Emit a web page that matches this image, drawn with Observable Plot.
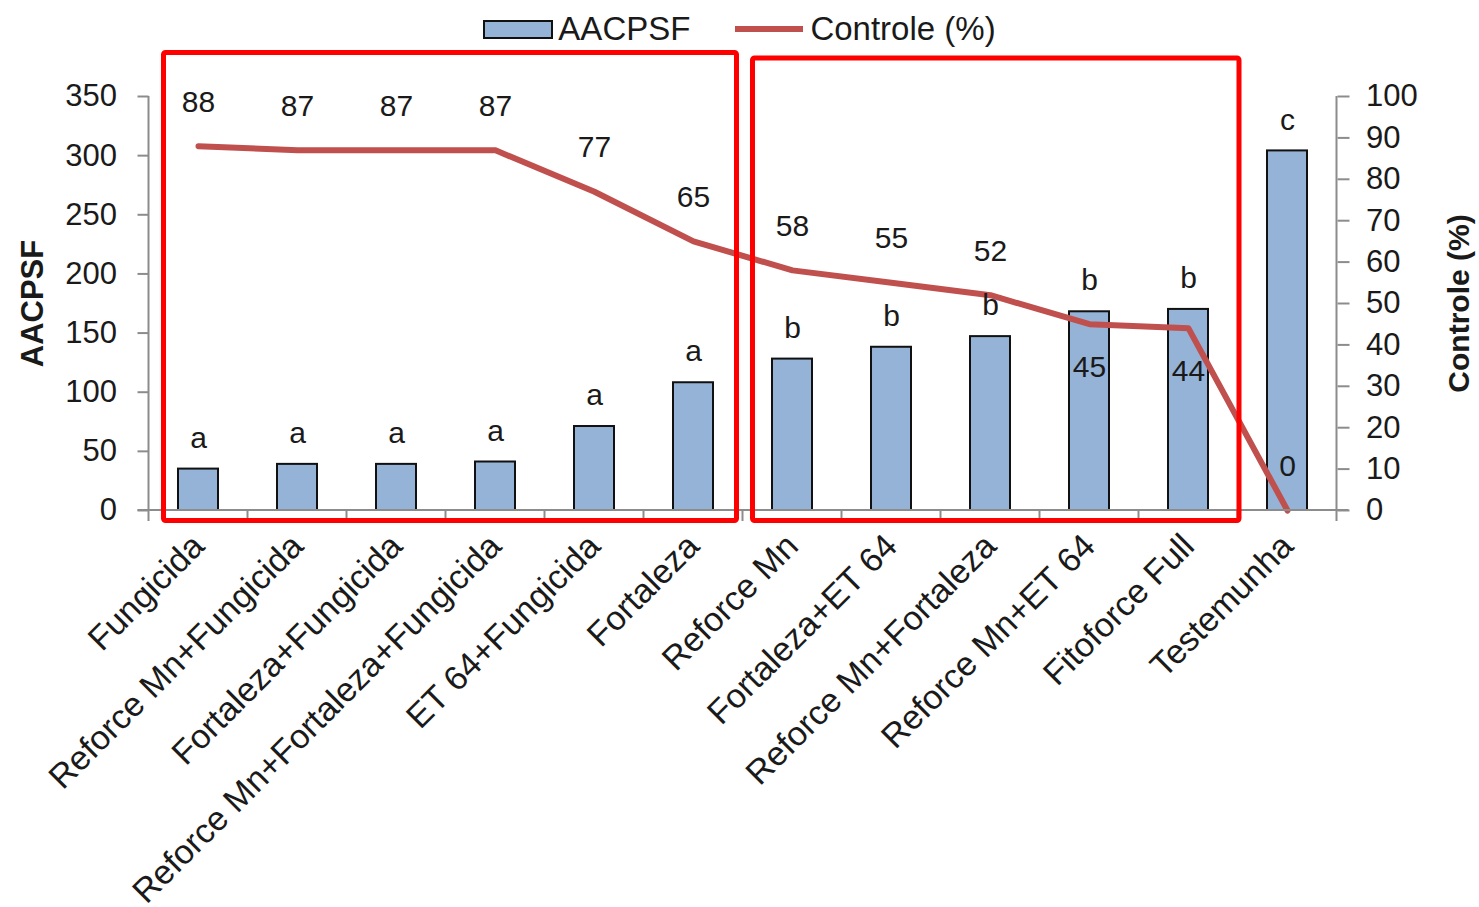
<!DOCTYPE html>
<html>
<head>
<meta charset="utf-8">
<script src="https://cdn.jsdelivr.net/npm/d3@7"></script>
<script src="https://cdn.jsdelivr.net/npm/@observablehq/plot@0.6"></script>
<style>
  html, body { margin: 0; padding: 0; background: #fff; }
  body { width: 1479px; height: 907px; overflow: hidden; font-family: "Liberation Sans", Arial, sans-serif; color: #1a1a1a; }
  #legend { height: 46px; display: flex; align-items: center; justify-content: center; font-size: 33px; padding-top: 12px; box-sizing: border-box; }
  .sw-bar { width: 66px; height: 15px; background: #95b3d7; border: 2px solid #111; margin-right: 5px; }
  .sw-line { width: 68px; height: 6px; background: #c0504d; margin-right: 7px; margin-left: 45px; }
  svg { overflow: visible; }
</style>
</head>
<body>
<div id="legend"><div class="sw-bar"></div><span>AACPSF</span><div class="sw-line"></div><span>Controle (%)</span></div>
<div id="chart"></div>
<script>
const categories = ["Fungicida", "Reforce Mn+Fungicida", "Fortaleza+Fungicida", "Reforce Mn+Fortaleza+Fungicida", "ET 64+Fungicida", "Fortaleza", "Reforce Mn", "Fortaleza+ET 64", "Reforce Mn+Fortaleza", "Reforce Mn+ET 64", "Fitoforce Full", "Testemunha"];
const aacpsf = [35, 39, 39, 41, 71, 108, 128, 138, 147, 168, 170, 304];
const controle = [88, 87, 87, 87, 77, 65, 58, 55, 52, 45, 44, 0];
const letters = ["a", "a", "a", "a", "a", "a", "b", "b", "b", "b", "b", "c"];
const leftTicks = [0, 50, 100, 150, 200, 250, 300, 350];
const rightTicks = [0, 10, 20, 30, 40, 50, 60, 70, 80, 90, 100];
const pctLabelBelow = ["Reforce Mn+ET 64", "Fitoforce Full"];
const groups = [
  {first: "Fungicida", last: "Fortaleza"},
  {first: "Reforce Mn", last: "Fitoforce Full"}
];

const leftMax = leftTicks[leftTicks.length - 1];
const rightMax = rightTicks[rightTicks.length - 1];
const k = leftMax / rightMax;

const data = categories.map((c, i) => ({cat: c, aacpsf: aacpsf[i], pct: controle[i], letter: letters[i]}));

const W = 1479, H = 861;
const gray = "#8c8c8c";

const plot = Plot.plot({
  width: W, height: H,
  marginLeft: 148.5, marginRight: 142.5, marginTop: 50, marginBottom: 397,
  style: {fontFamily: "'Liberation Sans', Arial, sans-serif", fontSize: "31px", color: "#1a1a1a", background: "#fff", overflow: "visible"},
  x: {domain: categories, paddingInner: 0.6, paddingOuter: 0.3, label: null},
  y: {domain: [0, leftMax], label: null},
  marks: [
    Plot.barY(data, {x: "cat", y: "aacpsf", fill: "#95b3d7", stroke: "#111", strokeWidth: 2}),
    Plot.lineY(data, {x: "cat", y: d => d.pct * k, stroke: "#c0504d", strokeWidth: 6, strokeLinejoin: "round", strokeLinecap: "round"}),
    Plot.text(data, {x: "cat", y: "aacpsf", text: "letter", dy: -31, fontSize: 30, fill: "#1a1a1a"}),
    Plot.text(data.filter(d => !pctLabelBelow.includes(d.cat)), {x: "cat", y: d => d.pct * k, text: d => String(d.pct), dy: -44, fontSize: 30, fill: "#1a1a1a"}),
    Plot.text(data.filter(d => pctLabelBelow.includes(d.cat)), {x: "cat", y: d => d.pct * k, text: d => String(d.pct), dy: 43, fontSize: 30, fill: "#1a1a1a"}),
    Plot.axisY(leftTicks, {anchor: "left", tickSize: 11, tickPadding: 21, stroke: gray, strokeWidth: 2, fill: "#1a1a1a", fontSize: 31, label: null}),
    Plot.axisY(rightTicks.map(v => v * k), {anchor: "right", tickFormat: d => String(Math.round(d / k)), tickSize: 12, tickPadding: 17, stroke: gray, strokeWidth: 2, fill: "#1a1a1a", fontSize: 31, label: null}),
    Plot.axisX({tickRotate: -45, tickSize: 0, tickPadding: 30, fontSize: 34, fill: "#1a1a1a", label: null}),
    Plot.text(["AACPSF"], {frameAnchor: "left", textAnchor: "middle", dx: -116, rotate: -90, fontWeight: "bold", fontSize: 31, fill: "#1a1a1a"}),
    Plot.text(["Controle (%)"], {frameAnchor: "right", textAnchor: "middle", dx: 122, rotate: -90, fontWeight: "bold", fontSize: 30, fill: "#1a1a1a"})
  ]
});

document.getElementById("chart").appendChild(plot);

// axis lines, category separators and highlight boxes, from the scales
const xs = plot.scale("x"), ys = plot.scale("y");
const bw = xs.bandwidth;
const center = c => xs.apply(c) + bw / 2;
const step = center(categories[1]) - center(categories[0]);
const xLeft = center(categories[0]) - step / 2;
const xRight = center(categories[categories.length - 1]) + step / 2;
const y0 = ys.apply(0), yTop = ys.apply(leftMax);
const svg = d3.select(plot);
const g = svg.append("g").attr("stroke", gray).attr("stroke-width", 2);
g.append("line").attr("x1", xLeft).attr("x2", xLeft).attr("y1", yTop).attr("y2", y0 + 11);
g.append("line").attr("x1", xRight).attr("x2", xRight).attr("y1", yTop).attr("y2", y0 + 11);
g.append("line").attr("x1", xLeft - 11).attr("x2", xRight + 12).attr("y1", y0).attr("y2", y0);
for (let i = 1; i < categories.length; i++) {
  const xb = (center(categories[i - 1]) + center(categories[i])) / 2;
  g.append("line").attr("x1", xb).attr("x2", xb).attr("y1", y0).attr("y2", y0 + 11);
}
const boxInsets = [{l: 15, r: -6, t: -43.5}, {l: 10, r: 1.5, t: -38}];
const gb = svg.append("g").attr("fill", "none").attr("stroke", "#ff0000").attr("stroke-width", 5).attr("stroke-linejoin", "round");
groups.forEach((grp, i) => {
  const x1 = center(grp.first) - step / 2 + boxInsets[i].l;
  const x2 = center(grp.last) + step / 2 + boxInsets[i].r;
  const y1 = yTop + boxInsets[i].t;
  const y2 = y0 + 10.5;
  gb.append("rect").attr("x", x1).attr("y", y1).attr("width", x2 - x1).attr("height", y2 - y1).attr("rx", 2);
});
</script>
</body>
</html>
